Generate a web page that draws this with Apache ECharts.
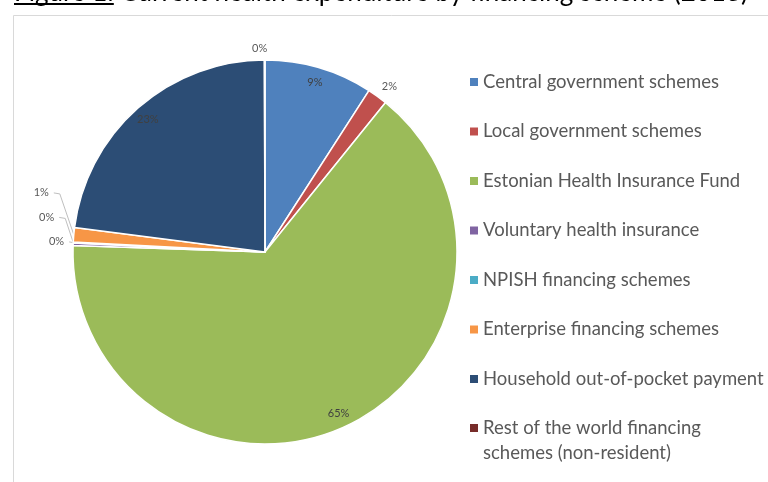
<!DOCTYPE html>
<html>
<head>
<meta charset="utf-8">
<script src="https://cdn.jsdelivr.net/npm/echarts@6/dist/echarts.min.js"></script>
<style>
  html, body { margin: 0; padding: 0; background: #fff; }
  #chart { width: 768px; height: 482px; }
</style>
</head>
<body>
<div id="chart"></div>
<script>
// Current health expenditure by financing scheme, share of total (%)
const categories = [
  'Central government schemes',
  'Local government schemes',
  'Estonian Health Insurance Fund',
  'Voluntary health insurance',
  'NPISH financing schemes',
  'Enterprise financing schemes',
  'Household out-of-pocket payment',
  'Rest of the world financing schemes (non-resident)'
];
const shares = [9.1, 1.7, 64.7, 0.2, 0.1, 1.2, 22.9, 0.05];
const colors = ['#4f81bd', '#c0504d', '#9bbb59', '#8064a2', '#4bacc6', '#f79646', '#2c4d75', '#772c2a'];

const titleText = 'Figure 1: Current health expenditure by financing scheme (2018)';
const titlePrefix = 'Figure 1:';

// slices whose percentage sits inside the pie, the rest are labelled outside
const insideLabelled = [0, 2, 6];
const outsideNoLine = [1, 7];
// small slices on the left whose labels are stacked upwards with leader lines
const stacked = [3, 4, 5];
const stackNudgeX = [14, 4, -2];

const total = shares.reduce((a, b) => a + b, 0);
const pct = v => Math.round(v / total * 100) + '%';

const FONT = 'Lato, "Open Sans", sans-serif';
const TITLE_SIZE = 26;
const STACK_STEP = 24.5;

// width of the underlined prefix of the caption
const ctx = document.createElement('canvas').getContext('2d');
ctx.font = TITLE_SIZE + 'px Lato';
const prefixWidth = ctx.measureText(titlePrefix).width;

const mainData = categories.map((name, i) => {
  const showOut = !insideLabelled.includes(i);
  const noLine = outsideNoLine.includes(i);
  return {
    name,
    value: shares[i],
    itemStyle: { color: colors[i] },
    label: { show: showOut },
    labelLine: noLine ? { show: false, length: 12, length2: 0 } : { show: showOut }
  };
});

const ringData = categories.map((name, i) => ({
  name,
  value: shares[i],
  label: { show: insideLabelled.includes(i) }
}));

const lastName = categories[categories.length - 1];
const legendTextStyle = { color: '#595959', fontSize: 18.5, fontFamily: FONT, lineHeight: 25 };

let stackBase = null;
function placeLabel(p) {
  const i = p.dataIndex;
  const w = p.labelRect.width;
  if (outsideNoLine.includes(i)) {
    // centre line-less labels on the end of their (hidden) radial line
    return { dx: p.align === 'left' ? -w / 2 : (p.align === 'right' ? w / 2 : 0) };
  }
  const rank = stacked.indexOf(i);
  if (rank < 0) return {};
  const cy = p.labelRect.y + p.labelRect.height / 2;
  if (rank === 0) stackBase = cy - 2;
  const dy = stackBase - rank * STACK_STEP - cy;
  const dx = stackNudgeX[rank];
  const pts = p.labelLinePoints;
  const end = [pts[2][0] + dx, pts[2][1] + dy];
  const elbow = [end[0] + 6, end[1] + 1];
  return { dx, dy, labelLinePoints: [pts[0], elbow, end] };
}

const chart = echarts.init(document.getElementById('chart'), null, { renderer: 'canvas' });
chart.setOption({
  animation: false,
  backgroundColor: '#ffffff',
  color: colors,
  graphic: [
    {
      type: 'rect',
      shape: { x: 13.5, y: 15.5, width: 900, height: 600 },
      style: { fill: 'none', stroke: '#d9d9d9', lineWidth: 1 },
      silent: true, z: -10
    },
    {
      type: 'text',
      x: 14, y: 6,
      style: {
        text: titleText, fill: '#000000',
        font: TITLE_SIZE + 'px Lato', verticalAlign: 'bottom', align: 'left'
      },
      silent: true
    },
    {
      type: 'rect',
      shape: { x: 14, y: 3, width: prefixWidth, height: 2 },
      style: { fill: '#000000' },
      silent: true
    }
  ],
  legend: [
    {
      orient: 'vertical',
      left: 470,
      top: 69.5,
      padding: 0,
      itemWidth: 8,
      itemHeight: 8,
      itemGap: 24.5,
      itemStyle: { borderWidth: 0 },
      icon: 'rect',
      textStyle: legendTextStyle,
      data: categories.slice(0, -1)
    },
    {
      orient: 'vertical',
      left: 470,
      top: 390.5,
      padding: 0,
      itemWidth: 8,
      itemHeight: 8,
      icon: 'rect',
      itemStyle: { borderWidth: 0 },
      textStyle: Object.assign({}, legendTextStyle, {
        rich: { gap: { height: 25 }, t: { color: '#595959', fontSize: 18.5, fontFamily: FONT, lineHeight: 25 } }
      }),
      formatter: () => '{gap|}\n{t|Rest of the world financing}\n{t|schemes (non-resident)}',
      data: [lastName]
    }
  ],
  series: [
    {
      name: 'Financing scheme',
      type: 'pie',
      center: [265, 252],
      radius: [0, 192],
      startAngle: 90,
      clockwise: true,
      avoidLabelOverlap: false,
      itemStyle: { borderColor: '#ffffff', borderWidth: 1.5 },
      label: {
        position: 'outside',
        formatter: p => pct(p.value),
        color: '#595959',
        fontSize: 11,
        fontFamily: FONT
      },
      labelLine: {
        length: 10,
        length2: 8,
        lineStyle: { color: '#bfbfbf', width: 1 }
      },
      labelLayout: placeLabel,
      emphasis: { disabled: true },
      data: mainData
    },
    {
      name: 'Financing scheme labels',
      type: 'pie',
      center: [265, 252],
      radius: [156, 192],
      startAngle: 90,
      clockwise: true,
      silent: true,
      itemStyle: { color: 'rgba(0,0,0,0)' },
      label: {
        position: 'inside',
        formatter: p => pct(p.value),
        color: '#404040',
        fontSize: 11,
        fontFamily: FONT
      },
      labelLine: { show: false },
      emphasis: { disabled: true },
      data: ringData
    }
  ]
});
</script>
</body>
</html>
